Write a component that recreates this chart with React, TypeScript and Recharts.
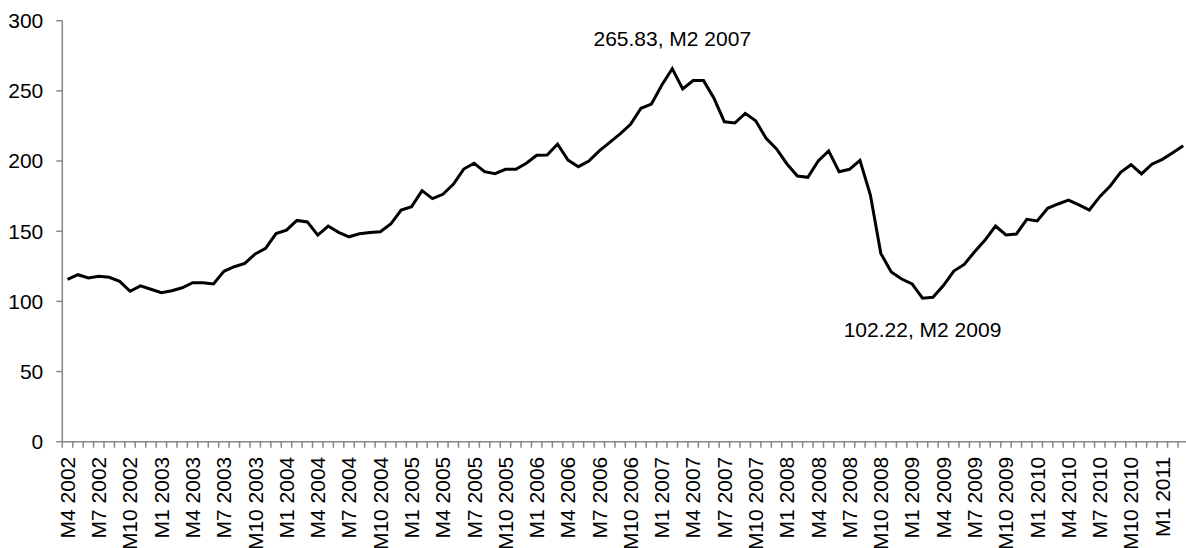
import React from 'react';
import { LineChart, Line, XAxis, YAxis } from 'recharts';

// monthly index, M4 2002 .. M3 2011
const START_YEAR = 2002;
const START_MONTH = 4;

const INDEX_VALUES = [
  115.7, 119.0, 116.7, 117.9, 117.2, 114.3, 107.2, 111.0, 108.6, 106.2, 107.6, 109.7,
  113.3, 113.3, 112.4, 121.4, 124.7, 127.1, 133.8, 137.8, 148.3, 150.8, 157.7, 156.6,
  147.2, 153.7, 149.2, 146.0, 148.2, 149.0, 149.6, 155.1, 165.1, 167.5, 178.9, 173.2,
  176.3, 183.4, 194.3, 198.4, 192.4, 191.0, 194.1, 194.1, 198.4, 204.1, 204.3, 212.1,
  200.7, 196.0, 200.0, 207.2, 213.3, 219.3, 226.2, 237.6, 240.6, 254.2, 265.83, 251.3,
  257.3, 257.3, 244.7, 228.0, 227.1, 234.0, 228.7, 216.2, 208.6, 197.9, 189.3, 188.4,
  200.0, 207.2, 192.4, 194.1, 200.5, 175.8, 134.2, 120.9, 115.9, 112.4, 102.22, 102.9,
  111.3, 121.6, 126.3, 135.4, 143.7, 153.7, 147.3, 148.0, 158.5, 157.3, 166.3, 169.4,
  172.2, 168.7, 165.1, 174.6, 182.2, 192.0, 197.4, 190.8, 197.7, 201.2, 205.9, 210.9,
];

const Y_TICKS = [0, 50, 100, 150, 200, 250, 300];

// points that get a "value, month" note
const NOTES = [
  { index: 58, dy: -23 },
  { index: 82, dy: 39 },
];

const MONTHS = INDEX_VALUES.map((_, i) => {
  const m = START_MONTH - 1 + i;
  return `M${(m % 12) + 1} ${START_YEAR + Math.floor(m / 12)}`;
});

const data = INDEX_VALUES.map((value, i) => ({ idx: i, month: MONTHS[i], value }));

// tick marks sit between months, like a category axis
const X_BOUNDS = Array.from({ length: MONTHS.length + 1 }, (_, i) => i - 0.5);

const CHART_W = 1200;
const CHART_H = 548;
const MARGIN = { top: 20.7, right: 11.6, bottom: 0, left: 0 };
const Y_AXIS_W = 62.3;
const X_AXIS_H = 106.3;
const BAND = (CHART_W - MARGIN.left - MARGIN.right - Y_AXIS_W) / MONTHS.length;

const AXIS = '#868686';
const FONT = 21;
const FAMILY = '"Liberation Sans", Arial, sans-serif';

const MonthTick = (props: any) => {
  const { x, y, payload } = props;
  const idx = payload.value + 0.5;
  const show = idx < MONTHS.length && idx % 3 === 0;
  const cx = x + BAND / 2;
  const ty = y + 15;
  return (
    <g>
      <line x1={x} y1={y} x2={x} y2={y + 6} stroke={AXIS} strokeWidth={1.5} />
      {show && (
        <text
          x={cx}
          y={ty}
          transform={`rotate(-90, ${cx}, ${ty})`}
          textAnchor="end"
          dy="0.35em"
          fontSize={FONT}
          fontFamily={FAMILY}
          fill="#000"
        >
          {MONTHS[idx]}
        </text>
      )}
    </g>
  );
};

const renderNote = (props: any) => {
  const { x, y, value, index } = props;
  const note = NOTES.find((n) => n.index === index);
  if (!note) return null;
  return (
    <text
      key={`note-${index}`}
      x={x}
      y={y + note.dy}
      textAnchor="middle"
      fontSize={FONT}
      fontFamily={FAMILY}
      fill="#000"
    >
      {`${Number(value).toFixed(2)}, ${MONTHS[index]}`}
    </text>
  );
};

export default function App() {
  return (
    <div
      style={{
        position: 'fixed',
        left: 0,
        top: 0,
        width: 1186,
        height: 548,
        overflow: 'hidden',
        background: '#fff',
      }}
    >
      <LineChart width={CHART_W} height={CHART_H} data={data} margin={MARGIN} style={{ fontFamily: FAMILY }}>
        <XAxis
          dataKey="idx"
          type="number"
          domain={[-0.5, MONTHS.length - 0.5]}
          ticks={X_BOUNDS}
          interval={0}
          height={X_AXIS_H}
          tickSize={0}
          tickMargin={0}
          tickLine={false}
          axisLine={{ stroke: AXIS, strokeWidth: 1.5 }}
          tick={<MonthTick />}
        />
        <YAxis
          domain={[0, 300]}
          ticks={Y_TICKS}
          width={Y_AXIS_W}
          tickSize={6}
          tickMargin={13}
          axisLine={{ stroke: AXIS, strokeWidth: 1.5 }}
          tickLine={{ stroke: AXIS, strokeWidth: 1.5 }}
          tick={{ fill: '#000', fontSize: FONT, fontFamily: FAMILY }}
          interval={0}
        />
        <Line
          type="linear"
          dataKey="value"
          stroke="#000"
          strokeWidth={3}
          dot={false}
          isAnimationActive={false}
          label={renderNote}
        />
      </LineChart>
    </div>
  );
}
